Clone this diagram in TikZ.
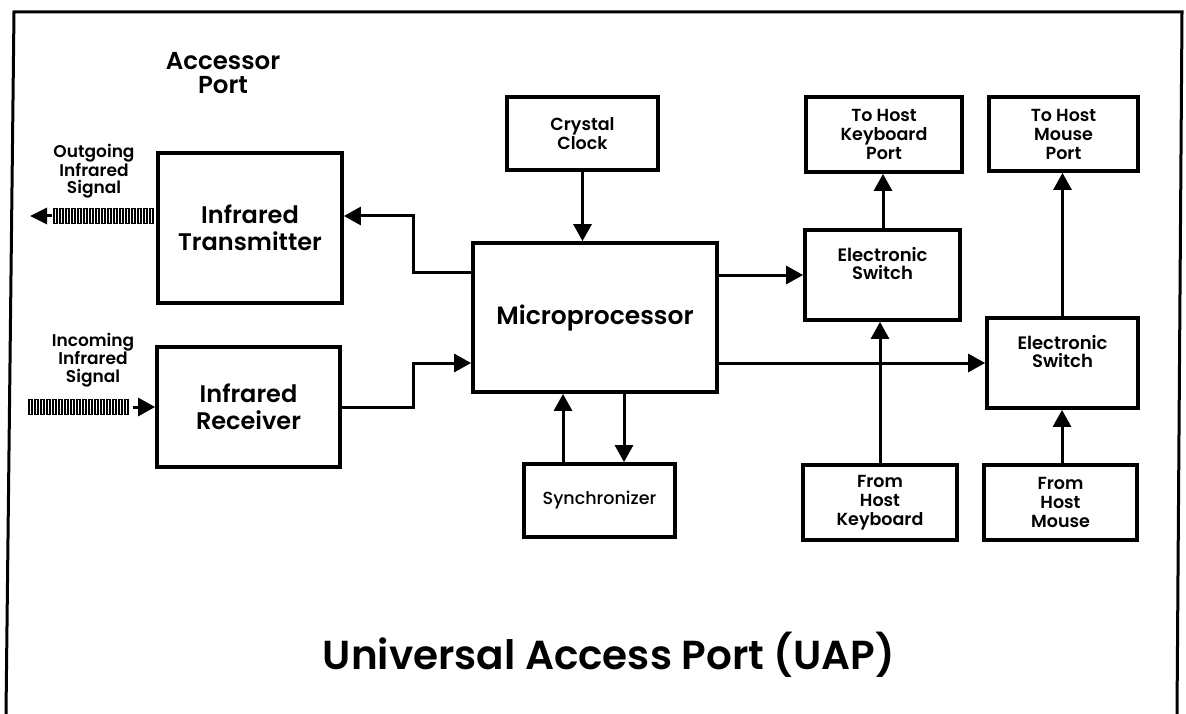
\documentclass[tikz,border=0pt]{standalone}
\usepackage{fontspec}
\usetikzlibrary{arrows.meta}
\IfFontExistsTF{Poppins SemiBold}
  {\setmainfont{Poppins}[BoldFont={Poppins SemiBold}]}
  {\setmainfont{Poppins}}
\IfFontExistsTF{Poppins Medium}
  {\newfontfamily\medfont{Poppins Medium}}
  {\newfontfamily\medfont{Poppins}}

\begin{document}
\begin{tikzpicture}[x=1pt,y=-1pt,
  box/.style={draw, line width=3.8pt, inner sep=0pt, align=center},
  wire/.style={line width=3pt},
  feed/.style={wire, -{Triangle[length=17pt,width=18pt]}},
  big/.style={font=\fontsize{24}{27}\selectfont\bfseries},
  mid/.style={font=\fontsize{17.5}{19}\selectfont\bfseries},
  small/.style={font=\fontsize{18}{18}\selectfont\bfseries, align=center},
  bar/.style={line width=1.8pt}]

\useasboundingbox (0,0) rectangle (1186,714);

% outer frame, open at the bottom
\draw[line width=3pt] (6,714) -- (14,12) -- (1182,12) -- (1177,714);

% blocks
\node[box,big,minimum width=184pt,minimum height=150pt] (tx) at (250,228) {Infrared\\Transmitter};
\node[box,big,minimum width=183pt,minimum height=120pt] (rx) at (248.5,407) {Infrared\\Receiver};
\node[box,minimum width=244pt,minimum height=149pt,font=\fontsize{25}{28}\selectfont\bfseries] (mp) at (595,317.5) {Microprocessor};
\node[box,mid,minimum width=151pt,minimum height=73pt] (cc) at (582.5,133.5) {Crystal\\Clock};
\node[box,minimum width=151pt,minimum height=73pt,font=\medfont\fontsize{17.5}{18}\selectfont] (sy) at (599.5,500.5) {Synchronizer};

\node[box,minimum width=155pt,minimum height=90pt] (es1) at (882.5,275) {};
\node[small] (es1t) at (882.5,264) {Electronic\\Switch};
\node[box,minimum width=151pt,minimum height=90pt] (es2) at (1062.5,363) {};
\node[small] (es2t) at (1062.5,352) {Electronic\\Switch};

\node[box,mid,minimum width=156pt,minimum height=75pt] (tk) at (884,134.5) {To Host\\Keyboard\\Port};
\node[box,mid,minimum width=149pt,minimum height=74pt] (tm) at (1063.5,134) {To Host\\Mouse\\Port};
\node[box,mid,minimum width=154pt,minimum height=75pt] (fk) at (880,502.5) {From\\Host\\Keyboard};
\node[box,mid,minimum width=153pt,minimum height=75pt] (fm) at (1060.5,502.5) {From\\Host\\Mouse};

% free-standing labels
\node[font=\fontsize{24.5}{24}\selectfont\bfseries, align=center] (acc) at (223,73) {Accessor\\Port};
\node[font=\fontsize{17}{16.5}\selectfont\bfseries, align=center] (outlbl) at (94,171) {Outgoing\\Infrared\\Signal};
\node[font=\fontsize{17}{18}\selectfont\bfseries, align=center] (inlbl) at (93,360) {Incoming\\Infrared\\Signal};
\node[font=\fontsize{40.5}{42}\selectfont\bfseries] (title) at (609,655) {Universal Access Port (UAP)};

% connectors
\draw[feed] (mp.west |- 0,272) -- (413,272) -- (413,216) -- (tx.east |- 0,216);
\draw[feed] (rx.east) -- (413,407) -- (413,363) -- (mp.west |- 0,363);
\draw[feed] (cc.south) -- (cc.south |- mp.north);
\draw[feed] (sy.north -| 563,0) -- (mp.south -| 563,0);
\draw[feed] (mp.south -| 624,0) -- (sy.north -| 624,0);
\draw[feed] (mp.east |- es1.west) -- (es1.west);
\draw[feed] (mp.east |- es2.west) -- (es2.west);
\draw[feed] (fk.north) -- (fk.north |- es1.south);
\draw[feed] (es1.north -| 883,0) -- (tk.south -| 883,0);
\draw[feed] (es2.north) -- (es2.north |- tm.south);
\draw[feed] (fm.north -| 1062,0) -- (es2.south -| 1062,0);

% outgoing infrared signal
\coordinate (outTail) at (52,216);
\coordinate (outTip) at (30,216);
\foreach \x in {54,60,...,150} \draw[bar] (\x,208.5) rectangle (\x+3.2,223.5);
\draw[wire, -{Triangle[length=17pt,width=16pt]}] (outTail) -- (outTip);

% incoming infrared signal
\coordinate (inTail) at (133,407);
\foreach \x in {29,35,...,128} \draw[bar] (\x,399.5) rectangle (\x+3.2,414.5);
\draw[feed] (inTail) -- (rx.west);
\end{tikzpicture}
\end{document}
